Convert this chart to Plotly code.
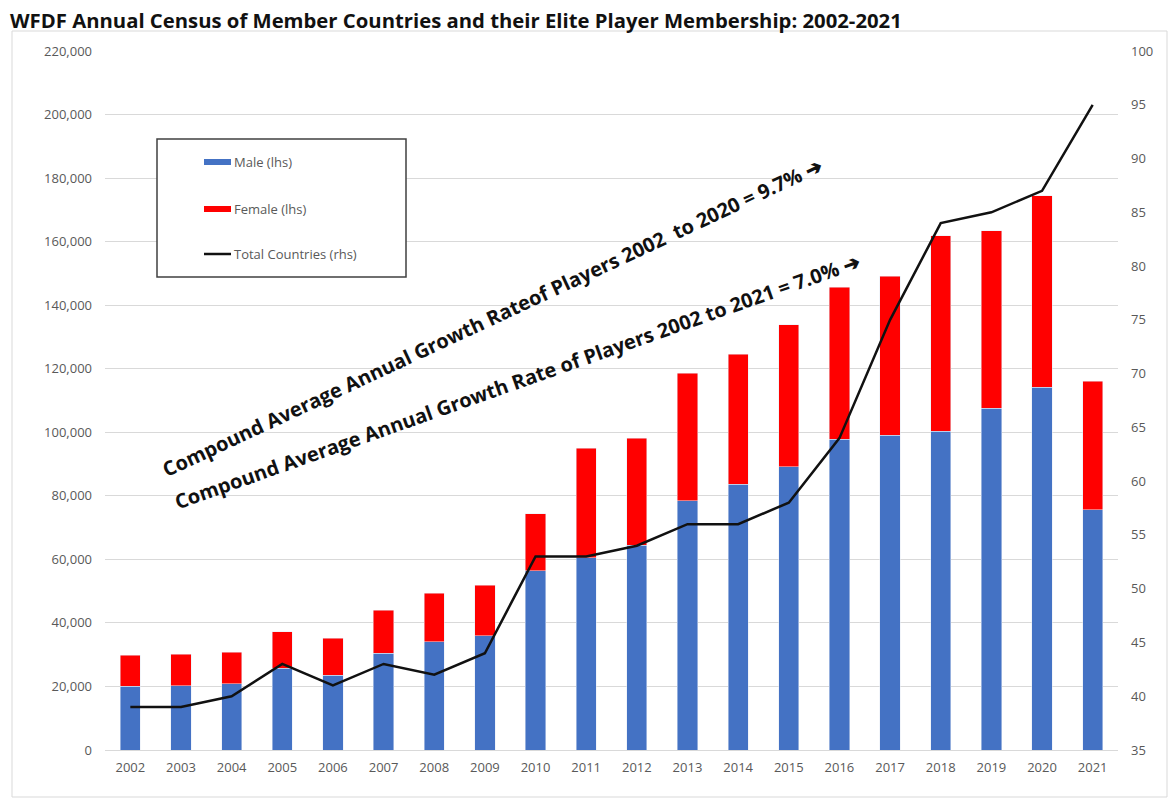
import plotly.graph_objects as go

years = [str(y) for y in range(2002, 2022)]
male = [20000, 20200, 20800, 25800, 23600, 30400, 34100, 35900, 56400, 60500,
        64500, 78500, 83600, 89200, 97800, 99000, 100400, 107600, 114200, 75600]
total_players = [29800, 30200, 30800, 37200, 35200, 44000, 49300, 51900, 74300, 95000,
                 98100, 118600, 124600, 133800, 145700, 149100, 161800, 163500, 174400, 116000]
female = [t - m for t, m in zip(total_players, male)]
countries = [39, 39, 40, 43, 41, 43, 42, 44, 53, 53, 54, 56, 56, 58, 64, 75, 84, 85, 87, 95]

title_text = "WFDF Annual Census of Member Countries and their Elite Player Membership: 2002-2021"
note1 = "Compound Average Annual Growth Rateof Players 2002  to 2020 = 9.7% ➔"
note2 = "Compound Average Annual Growth Rate of Players 2002 to 2021 = 7.0% ➔"

BLUE = "#4472C4"
RED = "#FF0000"
GRAY = "#595959"
FONT = "Open Sans"

fig = go.Figure()
fig.add_trace(go.Bar(x=years, y=male, name="Male (lhs)", marker_color=BLUE, showlegend=False))
fig.add_trace(go.Bar(x=years, y=female, name="Female (lhs)", marker_color=RED, showlegend=False))
fig.add_trace(go.Scatter(x=years, y=countries, name="Total Countries (rhs)", yaxis="y2",
                         mode="lines", line=dict(color="#111111", width=2.5), showlegend=False))

W, H = 1169, 799
L, R, T, B = 105, 51, 51, 49
pw, ph = W - L - R, H - T - B

def px(x):
    return (x - L) / pw

def py(y):
    return (H - B - y) / ph

shapes = [
    dict(type="rect", xref="paper", yref="paper", x0=px(12), x1=px(1167), y0=py(797), y1=py(31),
         line=dict(color="#d9d9d9", width=1), layer="below"),
    dict(type="rect", xref="paper", yref="paper", x0=px(157), x1=px(406), y0=py(277), y1=py(139),
         line=dict(color="#404040", width=1.5), fillcolor="white", layer="above"),
    dict(type="rect", xref="paper", yref="paper", x0=px(204), x1=px(231), y0=py(165), y1=py(159),
         line=dict(width=0), fillcolor=BLUE, layer="above"),
    dict(type="rect", xref="paper", yref="paper", x0=px(204), x1=px(231), y0=py(212), y1=py(206),
         line=dict(width=0), fillcolor=RED, layer="above"),
    dict(type="line", xref="paper", yref="paper", x0=px(204), x1=px(231), y0=py(254), y1=py(254),
         line=dict(color="#111111", width=2.5), layer="above"),
]

annotations = [
    dict(text="Male (lhs)", xref="paper", yref="paper", x=px(232), y=py(162), xanchor="left",
         yanchor="middle", showarrow=False, font=dict(size=13, color=GRAY, family=FONT)),
    dict(text="Female (lhs)", xref="paper", yref="paper", x=px(232), y=py(209), xanchor="left",
         yanchor="middle", showarrow=False, font=dict(size=13, color=GRAY, family=FONT)),
    dict(text="Total Countries (rhs)", xref="paper", yref="paper", x=px(232), y=py(254), xanchor="left",
         yanchor="middle", showarrow=False, font=dict(size=13, color=GRAY, family=FONT)),
    dict(text="<b>" + note1 + "</b>", xref="paper", yref="paper", x=px(492), y=py(318),
         xanchor="center", yanchor="middle", showarrow=False, textangle=-25,
         font=dict(size=20, color="#111111", family=FONT)),
    dict(text="<b>" + note2 + "</b>", xref="paper", yref="paper", x=px(517), y=py(382),
         xanchor="center", yanchor="middle", showarrow=False, textangle=-19.5,
         font=dict(size=20, color="#111111", family=FONT)),
    dict(text="<b>" + title_text + "</b>", xref="paper", yref="paper", x=px(8), y=py(20),
         xanchor="left", yanchor="middle", showarrow=False,
         font=dict(size=20.3, color="#111111", family=FONT)),
]

fig.update_layout(
    width=W, height=H,
    margin=dict(l=L, r=R, t=T, b=B),
    barmode="stack", bargap=0.6,
    plot_bgcolor="white", paper_bgcolor="white",
    font=dict(family=FONT, color=GRAY, size=13),
    xaxis=dict(showgrid=False, showline=True, linecolor="#d9d9d9", linewidth=1,
               ticks="", tickfont=dict(size=13, color=GRAY), ticklabelstandoff=5),
    yaxis=dict(range=[0, 220000], dtick=20000, tickformat=",", showgrid=True,
               gridcolor="#d9d9d9", gridwidth=1, zeroline=False,
               tickfont=dict(size=13, color=GRAY), ticklabelstandoff=12),
    yaxis2=dict(range=[35, 100], dtick=5, overlaying="y", side="right", showgrid=False,
                zeroline=False, tickfont=dict(size=13, color=GRAY), ticklabelstandoff=12),
    shapes=shapes,
    annotations=annotations,
    showlegend=False,
)

fig.write_html("out.html")
